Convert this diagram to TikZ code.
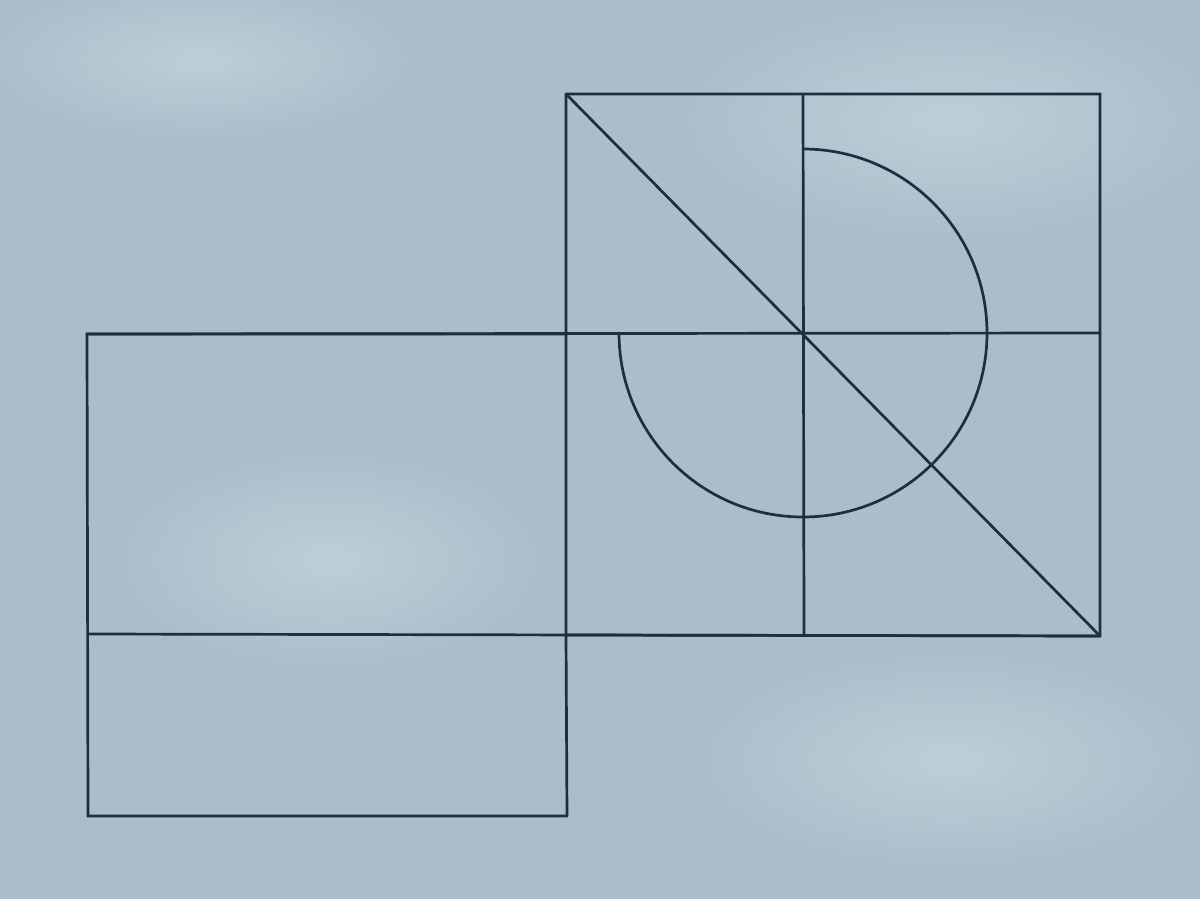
\documentclass[tikz,border=0pt]{standalone}
\usetikzlibrary{calc}
\definecolor{paper}{HTML}{A9BECA}
\definecolor{paperlight}{HTML}{BDCFD8}
\definecolor{ink}{HTML}{1F2D41}
\begin{document}
\begin{tikzpicture}[x=1pt,y=-1pt,
  inkline/.style={draw=ink,line width=2.7pt,line cap=round,line join=miter}]
\fill[paper] (0,0) rectangle (1200,899);
\useasboundingbox (0,0) rectangle (1200,899);
% soft lighter areas
\shade[inner color=paperlight,outer color=paper] (950,120) ellipse (280 and 120);
\shade[inner color=paperlight,outer color=paper] (330,560) ellipse (220 and 110);
\shade[inner color=paperlight,outer color=paper] (950,760) ellipse (260 and 110);
\shade[inner color=paperlight,outer color=paper] (200,60) ellipse (220 and 80);
% key points
\coordinate (TL) at (566,94);
\coordinate (TR) at (1100,94);
\coordinate (BR) at (1100,636);
\coordinate (BM) at (566,635);
\coordinate (LT) at (87,334);
\coordinate (LM) at (88,634);
\coordinate (LB) at (88,816);
\coordinate (RB) at (567,816);
\coordinate (C)  at (803,333);
\coordinate (VT) at (803,94);
\coordinate (VB) at (804,635);
% outer square on the right
\draw[inkline] (TL) -- (TR) -- (BR) -- (BM);
\draw[inkline] (TL) -- (BM) -- (RB);
% left rectangle
\draw[inkline] (566,334) -- (LT) -- (LB) -- (RB);
% horizontal lines
\draw[inkline] (LT) -- (1100,333);
\draw[inkline] (LM) -- (BR);
% vertical line
\draw[inkline] (VT) -- (VB);
% diagonal
\draw[inkline] (TL) -- (BR);
% three-quarter arc
\draw[inkline] ($(C)+(0,-184)$) arc[start angle=-90,end angle=180,radius=184];
\end{tikzpicture}
\end{document}
